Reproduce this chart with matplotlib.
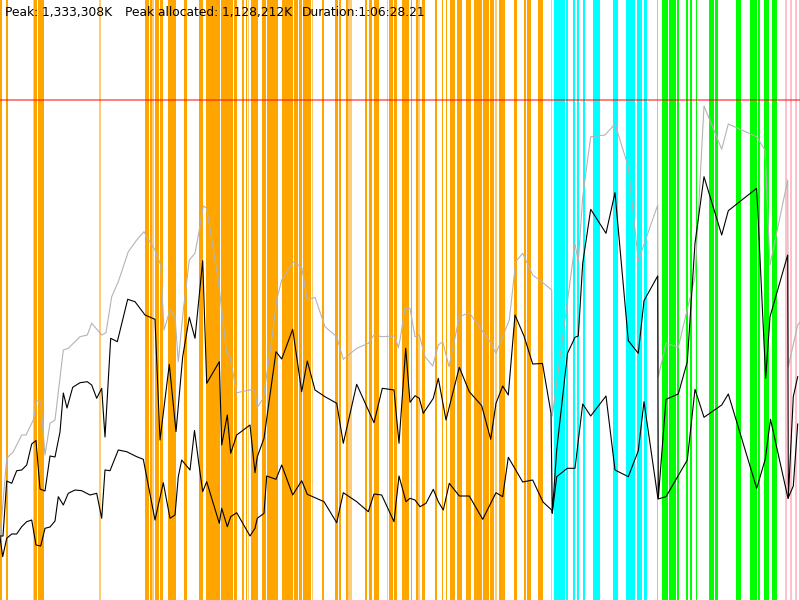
#!/usr/bin/env python3

from matplotlib import pyplot as plt

# time axis runs 0..800, memory axis 0..600 (units)
PEAK_LINE = 500

# grey line: total memory in use
total_t = [0, 6.7, 13.3, 21.7, 26, 33.3, 36.7, 40.7, 45, 50, 55, 63.3, 68.3, 80, 87.3, 91.7,
           101.7, 106, 111.7, 118.3, 128.3, 136.7, 144, 148.3, 155, 160.7, 164, 170, 175, 178.3,
           183.3, 189.3, 195, 199.3, 203.3, 206.7, 218.3, 226.7, 230, 236.7, 253.3, 255, 257.3,
           263.3, 271.7, 276.7, 281.7, 293.3, 301.7, 307.3, 315, 325, 336.7, 343.3, 356.7, 368.3,
           374, 381.7, 395, 398.3, 400, 405, 410, 415, 419.3, 425, 432.7, 438.3, 442.7, 449,
           459.3, 469.3, 481.7, 490, 496, 509.3, 515.7, 522.7, 532.7, 541.7, 551.7, 552.3, 575,
           578.3, 582.7, 590.7, 605, 615, 628.3, 638.3, 657.7, 658.3, 666, 678.3, 695, 704,
           721.7, 728.3, 756.7, 765, 770, 787.7, 788.3, 797.7, 800]
total_mem = [62, 141.7, 148.3, 165, 165, 180, 199.3, 198.3, 145, 176.7, 180, 250, 251.7, 263.3,
             265, 276.7, 265, 267.3, 303.3, 318.3, 348.3, 360, 368.3, 360.7, 350, 335, 270, 290,
             283.3, 238.3, 290, 340, 346.7, 370, 394, 391.7, 320, 246.7, 243.3, 207.3, 210.7,
             208.3, 192.7, 201.7, 260, 300, 320, 338.3, 332.7, 300, 302.7, 273.3, 263.3, 240.7,
             251.7, 256.7, 265, 263.3, 264, 252.3, 260, 291.7, 291.7, 263.3, 265, 243.3, 234,
             255, 258.3, 233.3, 283.3, 287.3, 270, 258.3, 246.7, 280, 338.3, 346.7, 325, 318.3,
             310, 184, 356, 338.3, 403.3, 463.3, 465, 476, 433.3, 339.3, 395, 223.3, 256.7,
             252.7, 323.3, 494, 450.7, 476, 463.3, 450, 335, 420, 233.3, 275, 278]

# upper black line: allocated
alloc_t = [0, 3, 6.7, 11.7, 16.7, 21.7, 26.7, 31.7, 36, 40, 45, 50, 55, 60, 63.3, 67, 72.7, 80,
           87.3, 91.7, 96.7, 101.7, 105, 110.7, 117.3, 127.7, 135, 140, 145, 155, 160, 169.3,
           176, 182.7, 189.3, 195, 202.7, 206.7, 219.3, 221.7, 227.3, 230.7, 236.7, 250, 255,
           257.3, 264, 276, 281.7, 292.7, 301.7, 307.3, 315, 325, 336.7, 343.3, 356.7, 374,
           382.3, 394, 399, 405.7, 410, 415, 419.3, 423.3, 433.3, 438.3, 446, 459.3, 469.3,
           481.7, 490.7, 496, 502.7, 508.3, 515, 524, 532.7, 542.5, 551, 552.3, 556.7, 567.5,
           575, 578.3, 582.7, 590.7, 606, 615, 628.3, 638.3, 644, 657.7, 658.3, 666, 678.3,
           687.3, 695, 704, 721.7, 728.3, 756.7, 765.7, 770, 787.7, 788.3, 793.3, 797.7]
alloc_mem = [64, 64, 119, 116.7, 129.3, 130, 135, 156, 159.5, 111, 109, 144, 143, 168, 207, 192,
             212.7, 217.3, 218.3, 215, 201.7, 211.7, 163, 261.7, 258.3, 300.7, 298.3, 291.7, 285,
             280.7, 160, 235.7, 168.3, 243.3, 282.7, 261.7, 339.3, 216.7, 238.3, 155, 185, 146.7,
             165, 175, 127.3, 143.3, 161.7, 248.3, 241, 270.7, 208.3, 239, 210, 203.3, 196.7,
             156.7, 215.7, 177.3, 211.7, 210, 156.7, 251.7, 197.7, 204.3, 201.7, 186.7, 201.7,
             221.7, 180, 232.7, 208.3, 194.3, 160.7, 196.7, 214, 205, 285, 264, 236, 236.5,
             186.7, 86.7, 150, 246.7, 262.7, 264, 336.7, 390.7, 366.7, 407.3, 259.3, 246.7,
             299.3, 324, 101.7, 200.7, 206, 238.3, 356.7, 423.3, 365, 389.3, 411.7, 221.7, 283.3,
             345, 101.7, 203.3, 223.3]

# lower black line: live data
live_t = [0, 2.7, 6.7, 11.7, 16.7, 21.7, 26.7, 31.7, 36, 40.7, 45, 50, 55, 58.3, 63.3, 68.3, 75,
          81.7, 90, 96.7, 101.7, 105, 110, 118.3, 126.7, 136.7, 143.3, 155, 163.3, 170, 175,
          178.3, 181.7, 190, 194.5, 199, 202.7, 206.7, 219.3, 221.7, 227.3, 230.7, 236.7, 250,
          255, 257.3, 264, 266.7, 276, 281.7, 292.7, 301.7, 307.3, 315, 324, 336.7, 343.3, 356.7,
          368.3, 374, 381.7, 394, 399, 406, 410, 415, 420, 426, 433.3, 438.3, 443.3, 449.3, 459.3,
          469.3, 482.7, 496, 502.7, 508.3, 522.7, 532.7, 543, 551.7, 552.3, 556.7, 567.3, 575,
          582.7, 590.7, 606, 615, 628.3, 638.3, 644, 658, 666, 687.3, 695, 704, 721.7, 728.3,
          756.7, 765.3, 770.5, 788, 793.3, 797.7]
live_mem = [63, 43.3, 61.7, 66, 66, 73.3, 78.3, 80, 55, 54, 71.7, 73, 79, 103.3, 95, 106.7, 110,
            109.3, 105, 106.7, 81.7, 130, 129.3, 150, 148.3, 143.3, 140.7, 80, 117.3, 81.7, 85,
            123.3, 140, 130, 169.5, 135, 108.3, 118.3, 76.7, 91.7, 73.3, 83.3, 87.3, 64, 71.7,
            81.7, 86.7, 124, 120.7, 135, 105, 119.3, 105.7, 102.3, 98.3, 77.3, 107.3, 98.3, 88.3,
            106, 105, 78.3, 124, 98.3, 101.7, 100, 93.3, 96.7, 110.7, 98.3, 90, 116.7, 104, 104,
            80.7, 107.3, 103.3, 142.7, 118, 120, 98, 90, 87, 123.3, 131.7, 131.7, 196, 184, 204,
            130, 123.3, 149.3, 198.3, 101, 103.3, 140, 210.7, 182.7, 195, 206, 111.7, 141,
            180.7, 101.7, 114, 176]

# phase markers (start, end)
orange_spans = [(0, 1.7), (6, 7.7), (34.3, 36.7), (37.7, 44), (145, 149), (150, 151.7),
                (155.3, 159), (160, 163.3), (167.7, 170), (170.3, 176), (184, 186.7),
                (199, 202.7), (206, 216.7), (217.3, 220), (221.3, 233.3), (234, 237.3),
                (242.3, 244), (245.7, 247.3), (250.7, 258.3), (261.7, 265.7), (266.7, 278.3),
                (282, 286.7), (287.3, 293.3), (294.3, 298.3), (299, 301.7), (303, 311),
                (321.7, 324), (335, 338.3), (339.3, 340.7), (346, 348.3), (365, 366.7),
                (369, 371.7), (374, 379.3), (389, 393.3), (394, 397.3), (401.7, 409),
                (411, 412.3), (416, 418.3), (422, 425), (435, 436.7), (441.7, 443.3),
                (445.7, 447.3), (450, 452.7), (453.3, 455.3), (456.7, 462), (465.7, 471),
                (474.3, 481.7), (482.7, 489), (490, 494), (499.3, 505), (514, 516.7),
                (524, 526), (527.3, 531), (538.3, 543.3)]
orange_light = [(32.7, 34.3), (99, 100.7), (152.3, 154), (247.7, 249.3), (311.7, 313.3),
                (348.3, 351.7), (386.7, 388.3), (418.3, 420), (494.7, 496.7)]
cyan_spans = [(554, 565), (566, 567.7), (572.7, 575), (577.3, 579.3), (582.7, 585),
              (593.3, 600), (612.7, 618.3), (626, 631.7), (632.3, 635), (636.7, 641.7),
              (644, 647.3)]
cyan_light = [(550.7, 552.3)]
green_spans = [(661.7, 668.3), (669, 671.7), (672.3, 676), (677.3, 679), (685.7, 688.3),
               (690, 692.3), (695.7, 697.3), (709, 714), (715, 718.3), (735.7, 741),
               (750, 757.3), (758.3, 760), (764.3, 769), (771.7, 776.7)]
green_light = [(656.7, 658.3)]
pink_spans = [(785, 787.3), (790, 791.7), (795, 797.3), (799, 800)]

fig = plt.figure(figsize=(8, 6), dpi=100)
ax = fig.add_axes([0, 0, 1, 1])
ax.set_xlim(0, 800)
ax.set_ylim(0, 600)
ax.axis('off')

for spans, color, alpha in [(orange_spans, '#ffa500', 1.0), (orange_light, '#ffa500', 0.55),
                            (cyan_spans, '#00ffff', 1.0), (cyan_light, '#00ffff', 0.55),
                            (green_spans, '#00ff00', 1.0), (green_light, '#00ff00', 0.55),
                            (pink_spans, '#ffc0cb', 1.0)]:
    for start, end in spans:
        ax.axvspan(start, end, color=color, alpha=alpha, lw=0, zorder=1)

ax.plot(total_t, total_mem, color='#b4b4b4', lw=0.8, zorder=2)
ax.plot(alloc_t, alloc_mem, color='black', lw=0.8, zorder=3)
ax.plot(live_t, live_mem, color='black', lw=0.8, zorder=3)

ax.axhline(PEAK_LINE, color='red', alpha=0.5, lw=1.4, zorder=4)

ax.text(5, 587.5, 'Peak: 1,333,308K', fontsize=8.8, va='center', zorder=5)
ax.text(125, 587.5, 'Peak allocated: 1,128,212K', fontsize=8.8, va='center', zorder=5)
ax.text(302, 587.5, 'Duration:1:06:28.21', fontsize=8.8, va='center', zorder=5)

fig.savefig('out.png', dpi=100)
